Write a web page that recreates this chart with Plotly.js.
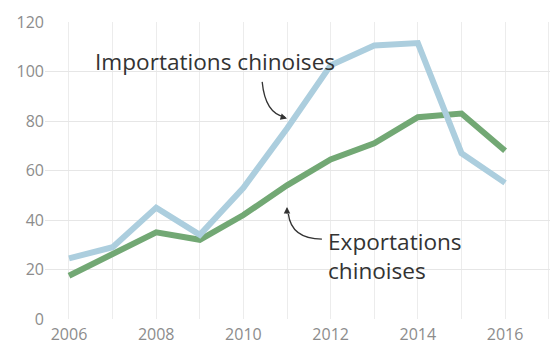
<!DOCTYPE html>
<html>
<head>
<meta charset="utf-8">
<script src="https://cdn.plot.ly/plotly-3.0.1.min.js"></script>
<style>html,body{margin:0;padding:0;background:#fff;}#chart{width:550px;height:347px;}</style>
</head>
<body>
<div id="chart"></div>
<script>
const years = [2006, 2007, 2008, 2009, 2010, 2011, 2012, 2013, 2014, 2015, 2016];
const importations = [24.5, 29, 45, 34, 53, 77, 102.5, 110.5, 111.5, 67, 55];
const exportations = [17.5, 26, 35, 32, 42, 54, 64.5, 71, 81.5, 83, 68];
const xTickVals = [2006, 2008, 2010, 2012, 2014, 2016];
const xTickText = ['2006', '2008', '2010', '2012', '2014', '2016'];
const yTickVals = [0, 20, 40, 60, 80, 100, 120];

const traces = [
  {x: years, y: exportations, type: 'scatter', mode: 'lines', name: 'Exportations chinoises',
   line: {color: '#72a874', width: 6}},
  {x: years, y: importations, type: 'scatter', mode: 'lines', name: 'Importations chinoises',
   line: {color: '#acceDE', width: 6}}
];

const labelFont = {family: 'Open Sans, sans-serif', size: 22.6, color: '#333'};

const layout = {
  width: 550, height: 347,
  margin: {l: 45, r: 0, t: 22, b: 28},
  paper_bgcolor: '#fff', plot_bgcolor: '#fff',
  showlegend: false,
  font: {family: 'Open Sans, sans-serif', color: '#8c8c8c', size: 16},
  xaxis: {
    range: [2005.45, 2017.03], tickvals: xTickVals, ticktext: xTickText,
    showgrid: true, gridcolor: '#ececec', gridwidth: 1,
    minor: {dtick: 1, showgrid: true, gridcolor: '#ececec'},
    zeroline: false, showline: false, ticks: '',
    tickfont: {size: 16, color: '#8c8c8c'},
    ticklabelstandoff: 4
  },
  yaxis: {
    range: [0, 120], tickvals: yTickVals,
    showgrid: true, gridcolor: '#e6e6e6', gridwidth: 1,
    zeroline: false, showline: false, ticks: '',
    tickfont: {size: 16, color: '#8c8c8c'},
    ticklabelstandoff: 0
  },
  shapes: [
    {type: 'path', xref: 'x', yref: 'y',
     path: 'M 2010.43,95.8 Q 2010.5,83.0 2010.95,81.6',
     line: {color: '#333', width: 1.3}},
    {type: 'path', xref: 'x', yref: 'y',
     path: 'M 2011.80,32.3 Q 2011.10,32.4 2011.03,42.5',
     line: {color: '#333', width: 1.3}}
  ],
  annotations: [
    {x: 2006.55, y: 104.2, xref: 'x', yref: 'y', xanchor: 'left', yanchor: 'middle',
     text: 'Importations chinoises', showarrow: false, font: labelFont},
    {x: 2011.90, y: 25.6, xref: 'x', yref: 'y', xanchor: 'left', yanchor: 'middle', align: 'left',
     text: 'Exportations<br>chinoises', showarrow: false, font: labelFont},
    {x: 2011.0, y: 81.0, xref: 'x', yref: 'y', text: '', showarrow: true,
     ax: -7, ay: -2, arrowhead: 2, arrowsize: 1, arrowwidth: 1.3, arrowcolor: '#333'},
    {x: 2011.0, y: 45.3, xref: 'x', yref: 'y', text: '', showarrow: true,
     ax: 0, ay: 8, arrowhead: 2, arrowsize: 1, arrowwidth: 1.3, arrowcolor: '#333'}
  ]
};

Plotly.newPlot('chart', traces, layout, {displayModeBar: false, staticPlot: true});
</script>
</body>
</html>
